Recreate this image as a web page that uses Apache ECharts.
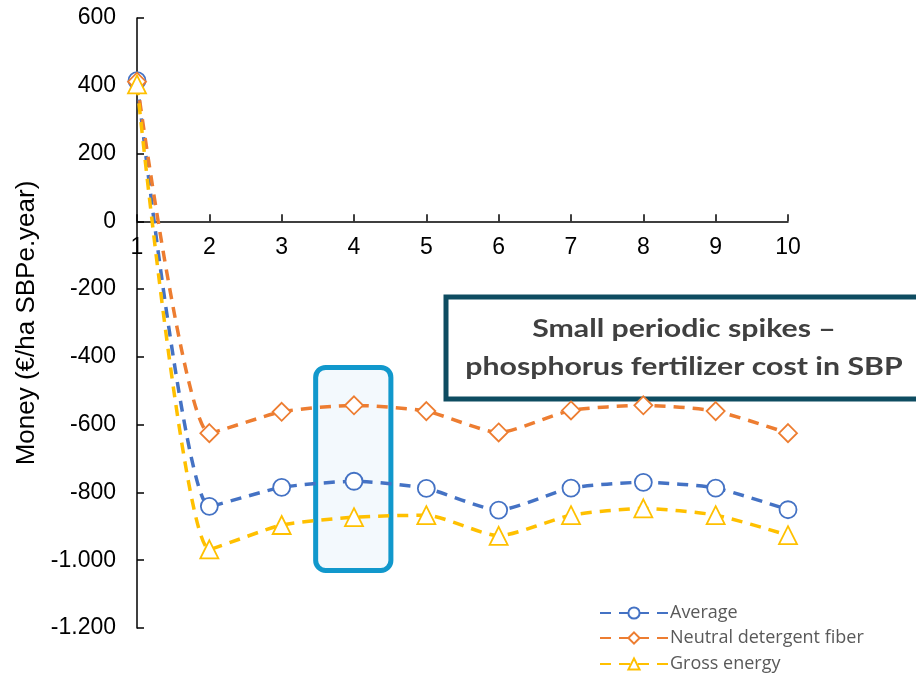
<!DOCTYPE html>
<html>
<head>
<meta charset="utf-8">
<title>Money per year</title>
<script src="https://cdn.jsdelivr.net/npm/echarts@6/dist/echarts.min.js"></script>
<style>
  html, body { margin: 0; padding: 0; background: #ffffff; }
  #chart { width: 916px; height: 675px; }
</style>
</head>
<body>
<div id="chart"></div>
<script>
// Years along the horizontal axis
const years = ['1', '2', '3', '4', '5', '6', '7', '8', '9', '10'];

// Money (€/ha SBPe.year) per scenario
const average = [415, -841, -785, -767, -788, -852, -787, -770, -787, -851];
const neutralDetergentFiber = [412, -625, -562, -543, -560, -623, -558, -543, -560, -625];
const grossEnergy = [404, -968, -896, -873, -867, -928, -867, -847, -867, -926];

const seriesNames = ['Average', 'Neutral detergent fiber', 'Gross energy'];

// Vertical axis range and step
const yMin = -1200, yMax = 600, yStep = 200;

const annotationLines = ['Small periodic spikes –', 'phosphorus fertilizer cost in SBP'];

const GRID = { left: 137, right: 128, top: 18, bottom: 47 };

const chart = echarts.init(document.getElementById('chart'));

function lineSeries(name, data, color, symbol, size) {
  return {
    name: name,
    type: 'line',
    data: data,
    smooth: 0.2,
    symbol: symbol,
    symbolSize: size,
    showAllSymbol: true,
    z: 3,
    lineStyle: { color: color, width: 3.5, type: [11, 8] },
    itemStyle: { color: '#ffffff', borderColor: color, borderWidth: 1.8 }
  };
}

// One legend row per series, stacked in the lower right corner
function legendRow(name, top) {
  return {
    orient: 'vertical',
    left: 599,
    top: top,
    padding: 0,
    itemWidth: 68,
    itemHeight: 14,
    selectedMode: false,
    textStyle: {
      color: '#595959', fontFamily: 'Open Sans', fontSize: 18,
      lineHeight: 14, padding: [0, 0, 0, -3]
    },
    data: [name]
  };
}

// Thousands use a dot separator: -1.000, -1.200
function formatMoney(v) {
  const a = Math.abs(v);
  if (a < 1000) return String(v);
  return (v < 0 ? '-' : '') + Math.floor(a / 1000) + '.' + String(a % 1000).padStart(3, '0');
}

const option = {
  animation: false,
  backgroundColor: '#ffffff',
  grid: { left: GRID.left, right: GRID.right, top: GRID.top, bottom: GRID.bottom, containLabel: false },
  xAxis: {
    type: 'category',
    data: years,
    boundaryGap: false,
    offset: 0,
    axisLine: { onZero: false, lineStyle: { color: '#000000', width: 1.5 } },
    axisTick: { inside: true, length: 7, alignWithLabel: true, lineStyle: { color: '#000000', width: 1.5 } },
    axisLabel: { color: '#000000', fontFamily: 'Liberation Sans', fontSize: 23, margin: 15, interval: 0 },
    splitLine: { show: false }
  },
  yAxis: {
    type: 'value',
    min: yMin,
    max: yMax,
    interval: yStep,
    name: 'Money (€/ha SBPe.year)',
    nameLocation: 'middle',
    nameGap: 92,
    nameTextStyle: { color: '#000000', fontFamily: 'Liberation Sans', fontSize: 26 },
    axisLine: { show: true, onZero: false, lineStyle: { color: '#000000', width: 1.5 } },
    axisTick: { show: true, inside: true, length: 7, lineStyle: { color: '#000000', width: 1.5 } },
    axisLabel: {
      color: '#000000', fontFamily: 'Liberation Sans', fontSize: 23, margin: 21,
      formatter: formatMoney
    },
    splitLine: { show: false }
  },
  legend: [
    legendRow(seriesNames[0], 604),
    legendRow(seriesNames[1], 629),
    legendRow(seriesNames[2], 655)
  ],
  series: [
    lineSeries(seriesNames[0], average, '#4472C4', 'circle', 17),
    lineSeries(seriesNames[1], neutralDetergentFiber, '#ED7D31', 'diamond', 18),
    lineSeries(seriesNames[2], grossEnergy, '#FFC000', 'triangle', 18)
  ]
};

chart.setOption(option);

// Horizontal axis crosses the vertical one at zero
const zeroY = chart.convertToPixel({ yAxisIndex: 0 }, 0);
const gridBottomY = 675 - GRID.bottom;

// Highlight frame around year 4, placed through the axis scales
const firstX = chart.convertToPixel({ xAxisIndex: 0 }, 0);
const lastX = chart.convertToPixel({ xAxisIndex: 0 }, years.length - 1);
const step = (lastX - firstX) / (years.length - 1);
const xAt = function (year) { return firstX + (year - 1) * step; };
const frameLeft = xAt(3.47), frameRight = xAt(4.51);
const frameTop = chart.convertToPixel({ yAxisIndex: 0 }, -431);
const frameBottom = chart.convertToPixel({ yAxisIndex: 0 }, -1030);

chart.setOption({
  xAxis: { offset: -(gridBottomY - zeroY) },
  graphic: [
    {
      type: 'rect',
      z: 1,
      shape: {
        x: frameLeft,
        y: frameTop,
        width: frameRight - frameLeft,
        height: frameBottom - frameTop,
        r: 10
      },
      style: { fill: '#F3F9FD', stroke: '#1198CC', lineWidth: 5 }
    },
    {
      type: 'group',
      z: 10,
      children: [
        {
          type: 'rect',
          shape: { x: 446, y: 297, width: 480, height: 102 },
          style: { fill: '#ffffff', stroke: '#0E4C61', lineWidth: 5 }
        },
        {
          type: 'text',
          x: 684,
          y: 329,
          scaleX: 1.21,
          style: {
            text: annotationLines[0],
            fill: '#404040',
            font: 'bold 25px Lato',
            textAlign: 'center',
            textVerticalAlign: 'middle'
          }
        },
        {
          type: 'text',
          x: 684,
          y: 367,
          scaleX: 1.21,
          style: {
            text: annotationLines[1],
            fill: '#404040',
            font: 'bold 25px Lato',
            textAlign: 'center',
            textVerticalAlign: 'middle'
          }
        }
      ]
    }
  ]
});
</script>
</body>
</html>
